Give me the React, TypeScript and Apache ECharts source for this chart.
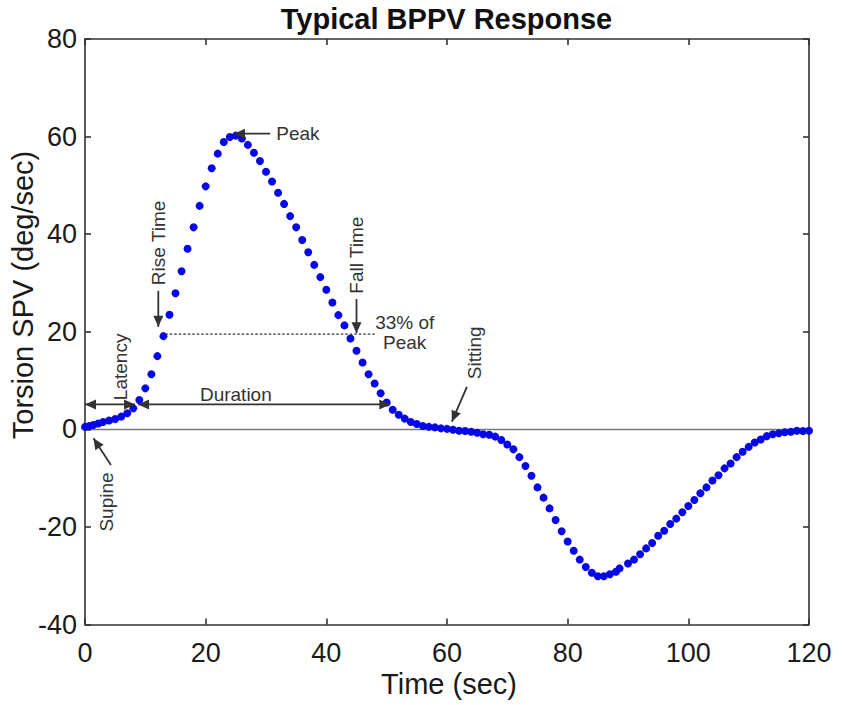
import React, { useEffect, useRef } from "react";
import * as echarts from "echarts";

const times = [
  0, 0.7, 1.4, 2.2, 3, 4, 5, 6, 7, 8, 9, 10, 11, 12, 13, 14, 15, 16, 17, 18, 19,
  20, 21, 22, 23, 24, 25, 26, 27, 28, 29, 30, 31, 32, 33, 34, 35, 36, 37, 38, 39,
  40, 41, 42, 43, 44, 45, 46, 47, 48, 49, 50, 51, 52, 53, 54, 55, 56, 57, 58, 59,
  60, 61, 62, 63, 64, 65, 66, 67, 68, 69, 70, 71, 72, 73, 74, 75, 76, 77, 78, 79,
  80, 81, 82, 83, 84, 85, 86, 87, 88, 88.6, 90, 91, 92, 93, 94, 95, 96, 97, 98, 99,
  100, 101, 102, 103, 104, 105, 106, 107, 108, 109, 110, 111, 112, 113, 114, 115,
  116, 117, 118, 119, 120,
];

const values = [
  0.5, 0.7, 0.9, 1.2, 1.5, 1.8, 2.1, 2.6, 3.3, 4.3, 6.0, 8.4, 11.3, 15.0, 19.1,
  23.5, 27.9, 32.4, 37.0, 41.4, 45.8, 49.8, 53.5, 56.5, 58.9, 59.9, 60.2, 59.6,
  58.3, 56.7, 55.0, 52.8, 50.8, 48.5, 46.2, 43.7, 41.4, 38.8, 36.3, 33.7, 31.2,
  28.6, 26.0, 23.4, 21.3, 18.6, 16.1, 13.7, 11.3, 9.4, 7.4, 5.5, 4.0, 3.0, 2.2,
  1.5, 1.1, 0.7, 0.5, 0.4, 0.2, 0.1, -0.1, -0.3, -0.35, -0.5, -0.7, -1.0, -1.1,
  -1.5, -2.2, -3.1, -4.1, -5.7, -7.5, -9.5, -11.9, -14.0, -16.2, -18.6, -20.9,
  -23.0, -24.9, -26.7, -28.2, -29.4, -30.1, -30.1, -29.7, -29.2, -28.5, -27.5,
  -26.7, -25.6, -24.4, -23.3, -21.8, -20.8, -19.4, -18.3, -17.0, -15.7, -14.5,
  -13.1, -11.9, -10.5, -9.4, -8.0, -7.0, -5.7, -4.6, -3.6, -2.7, -2.1, -1.4, -1.0,
  -0.8, -0.6, -0.5, -0.3, -0.35, -0.3,
];

const TITLE = "Typical BPPV Response";
const X_NAME = "Time (sec)";
const Y_NAME = "Torsion SPV (deg/sec)";

// annotation arrows in data coordinates: [fromX, fromY, toX, toY]
const singleArrows = [
  [30.7, 60.6, 24.7, 60.6], // Peak
  [12.15, 28.4, 12.15, 21.0], // Rise Time
  [45.0, 26.7, 45.0, 19.7], // Fall Time
  [63.3, 8.7, 60.8, 1.56], // Sitting
  [4.3, -7.3, 1.4, -1.85], // Supine
];
const doubleArrows = [
  [0, 5.1, 8.3, 5.1], // Latency
  [8.8, 5.1, 50.6, 5.1], // Duration
];
const dottedLine = [13.3, 19.5, 48.2, 19.5];

// annotation labels: text, x, y, rotated?, align
const labelTexts = ["Peak", "Rise Time", "Fall Time", "33% of", "Peak", "Latency", "Duration", "Sitting", "Supine"];
const labelX = [31.7, 12.15, 45.0, 48.1, 49.4, 5.9, 25.0, 64.6, 3.6];
const labelY = [60.6, 38.2, 35.7, 21.8, 17.7, 12.8, 7.2, 15.7, -14.9];
const labelRot = [false, true, true, false, false, true, false, true, true];
const labelAlign = ["left", "center", "center", "left", "left", "center", "center", "center", "center"];

const FONT = "'Liberation Sans', Arial, Helvetica, sans-serif";
const INK = "#333333";

export default function App() {
  const ref = useRef<HTMLDivElement>(null);

  useEffect(() => {
    document.body.style.margin = "0";
    if (!ref.current) return;
    const chart = echarts.init(ref.current, undefined, { renderer: "svg" });

    const axisLine = { show: true, onZero: false, lineStyle: { color: INK, width: 1.6 } };
    const axisTick = { show: true, inside: true, length: 6, lineStyle: { color: INK, width: 1.6 } };

    chart.setOption({
      animation: false,
      backgroundColor: "#ffffff",
      grid: { left: 85, right: 42, top: 39, bottom: 80.5, containLabel: false },
      xAxis: [
        {
          type: "value", min: 0, max: 120, interval: 20, position: "bottom",
          axisLine, axisTick, splitLine: { show: false },
          axisLabel: { fontSize: 27, color: "#1a1a1a", margin: 15, fontFamily: FONT },
        },
        {
          type: "value", min: 0, max: 120, interval: 20, position: "top",
          axisLine, axisTick, splitLine: { show: false }, axisLabel: { show: false },
        },
      ],
      yAxis: [
        {
          type: "value", min: -40, max: 80, interval: 20, position: "left",
          axisLine, axisTick, splitLine: { show: false },
          axisLabel: { fontSize: 27, color: "#1a1a1a", margin: 8, fontFamily: FONT },
        },
        {
          type: "value", min: -40, max: 80, interval: 20, position: "right",
          axisLine, axisTick, splitLine: { show: false }, axisLabel: { show: false },
        },
      ],
      series: [
        {
          type: "scatter",
          xAxisIndex: 0,
          yAxisIndex: 0,
          symbol: "circle",
          symbolSize: 8,
          itemStyle: { color: "#0606e6", opacity: 1 },
          data: times.map((t, i) => [t, values[i]]),
          markLine: {
            silent: true,
            symbol: ["none", "none"],
            label: { show: false },
            lineStyle: { color: "#7a7a7a", width: 1.3, type: "solid" },
            data: [{ yAxis: 0 }],
            z: 1,
          },
          z: 3,
        },
      ],
    });

    const px = (x: number, y: number) =>
      chart.convertToPixel({ xAxisIndex: 0, yAxisIndex: 0 }, [x, y]) as number[];

    const HEAD_L = 11;
    const HEAD_W = 5;
    const head = (tip: number[], from: number[]) => {
      const dx = tip[0] - from[0];
      const dy = tip[1] - from[1];
      const len = Math.sqrt(dx * dx + dy * dy) || 1;
      const ux = dx / len, uy = dy / len;
      const bx = tip[0] - ux * HEAD_L, by = tip[1] - uy * HEAD_L;
      return {
        type: "polygon",
        shape: { points: [tip, [bx - uy * HEAD_W, by + ux * HEAD_W], [bx + uy * HEAD_W, by - ux * HEAD_W]] },
        style: { fill: INK },
        z: 10,
      };
    };

    const graphics: any[] = [];
    singleArrows.forEach((a) => {
      const p0 = px(a[0], a[1]);
      const p1 = px(a[2], a[3]);
      graphics.push({
        type: "line",
        shape: { x1: p0[0], y1: p0[1], x2: p1[0], y2: p1[1] },
        style: { stroke: INK, lineWidth: 1.8 },
        z: 10,
      });
      graphics.push(head(p1, p0));
    });
    doubleArrows.forEach((a) => {
      const p0 = px(a[0], a[1]);
      const p1 = px(a[2], a[3]);
      graphics.push({
        type: "line",
        shape: { x1: p0[0], y1: p0[1], x2: p1[0], y2: p1[1] },
        style: { stroke: INK, lineWidth: 1.8 },
        z: 10,
      });
      graphics.push(head(p1, p0));
      graphics.push(head(p0, p1));
    });
    {
      const p0 = px(dottedLine[0], dottedLine[1]);
      const p1 = px(dottedLine[2], dottedLine[3]);
      graphics.push({
        type: "line",
        shape: { x1: p0[0], y1: p0[1], x2: p1[0], y2: p1[1] },
        style: { stroke: INK, lineWidth: 1.2, lineDash: [2.5, 2] },
        z: 10,
      });
    }
    labelTexts.forEach((t, i) => {
      const p = px(labelX[i], labelY[i]);
      graphics.push({
        type: "text",
        x: p[0],
        y: p[1],
        rotation: labelRot[i] ? Math.PI / 2 : 0,
        style: {
          text: t,
          fill: INK,
          font: `19px ${FONT}`,
          align: labelAlign[i],
          verticalAlign: "middle",
        },
        z: 11,
      });
    });

    // title and axis names
    graphics.push({
      type: "text",
      x: 446.5,
      y: 19,
      style: { text: TITLE, fill: "#111", font: `bold 29px ${FONT}`, align: "center", verticalAlign: "middle" },
      z: 11,
    });
    graphics.push({
      type: "text",
      x: 449,
      y: 684,
      style: { text: X_NAME, fill: "#1a1a1a", font: `29px ${FONT}`, align: "center", verticalAlign: "middle" },
      z: 11,
    });
    graphics.push({
      type: "text",
      x: 23,
      y: 295,
      rotation: Math.PI / 2,
      style: { text: Y_NAME, fill: "#1a1a1a", font: `29px ${FONT}`, align: "center", verticalAlign: "middle" },
      z: 11,
    });

    chart.setOption({ graphic: { elements: graphics } });

    return () => {
      chart.dispose();
    };
  }, []);

  return <div ref={ref} style={{ width: 851, height: 705 }} />;
}
